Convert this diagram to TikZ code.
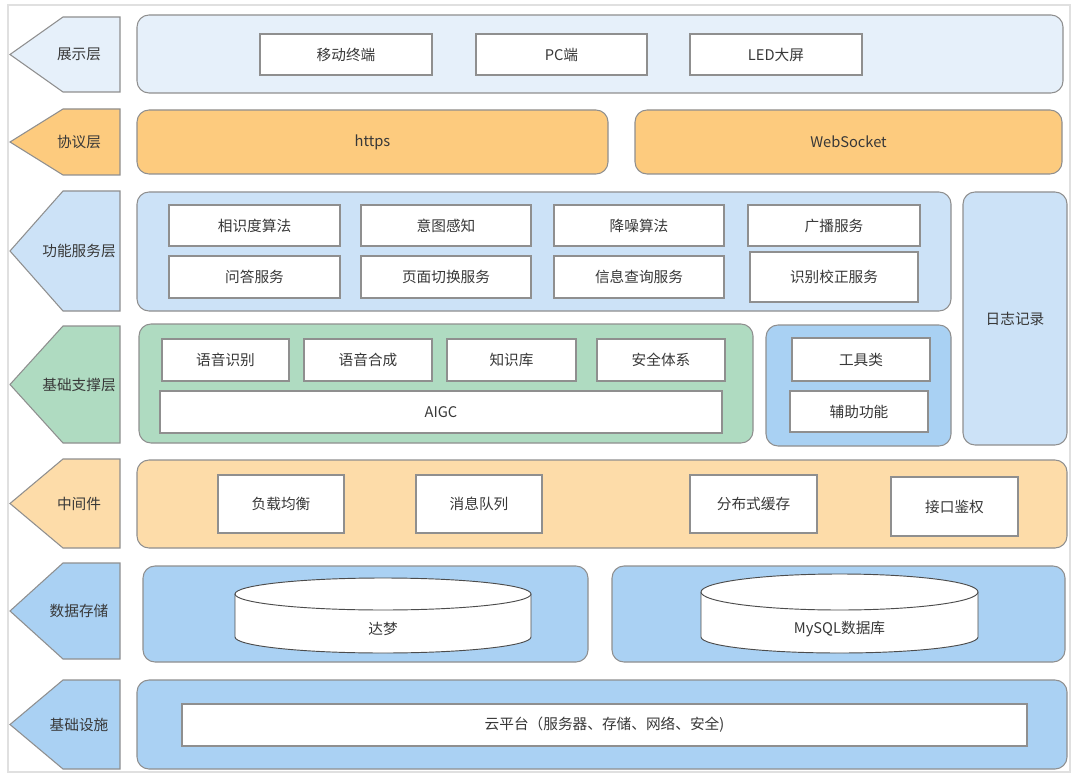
\documentclass[tikz,border=0pt]{standalone}
\usepackage{fontspec}
\setmainfont{Noto Sans CJK SC}
\definecolor{txt}{HTML}{383838}
\definecolor{edge}{HTML}{8F8F8F}
\definecolor{cOne}{HTML}{E6F0FA}
\definecolor{cTwo}{HTML}{FDCB7E}
\definecolor{cThree}{HTML}{CCE2F7}
\definecolor{cFour}{HTML}{AFDBC1}
\definecolor{cFive}{HTML}{A9D1F3}
\definecolor{cSix}{HTML}{FDDCA9}
\definecolor{cSeven}{HTML}{AAD1F3}
\newcommand\mybox[7][wbox]{\node[#1, minimum width={(#5-#3)*0.75pt}, minimum height={(#6-#4)*0.75pt}] (#2) at ({(#3+#5)/2},{(#4+#6)/2}) {#7};}
\newcommand\layertag[5]{%
  \draw[tagshape, fill=#2] (120,#3) -- (63,#3) -- (10,{(#3+#4)/2}) -- (63,#4) -- (120,#4) -- cycle;
  \node[lbl] (#1) at (79,{(#3+#4)/2}) {#5};}
\begin{document}
\begin{tikzpicture}[x=0.75pt,y=-0.75pt,
  every node/.style={text=txt, font=\fontsize{11}{13}\selectfont},
  wbox/.style={draw=edge, fill=white, line width=0.8pt, inner sep=0pt},
  panel/.style={draw=edge, line width=0.8pt, rounded corners=9pt, inner sep=0pt},
  tagshape/.style={draw=edge, line width=0.8pt},
  lbl/.style={inner sep=0pt},
  cyl/.style={draw=black!70, fill=white, line width=0.7pt}]
\useasboundingbox (0,0) rectangle (1080,780);
\fill[white] (0,0) rectangle (1080,780);
\draw[black!12, line width=0.8pt] (8,5) rectangle (1070,772);

% left tags
\layertag{t1}{cOne}{17}{92}{展示层}
\layertag{t2}{cTwo}{109}{175}{协议层}
\layertag{t3}{cThree}{191}{311}{功能服务层}
\layertag{t4}{cFour}{326}{443}{基础支撑层}
\layertag{t5}{cSix}{459}{548}{中间件}
\layertag{t6}{cSeven}{563}{659}{数据存储}
\layertag{t7}{cSeven}{680}{769}{基础设施}

% presentation layer
\mybox[panel, fill=cOne]{p1}{137}{15}{1063}{93}{}
\mybox{mobile}{260}{34}{432}{75}{移动终端}
\mybox{pc}{476}{34}{647}{75}{PC端}
\mybox{led}{690}{34}{862}{75}{LED大屏}

% protocol layer
\mybox[panel, fill=cTwo]{https}{137}{110}{608}{174}{https}
\mybox[panel, fill=cTwo]{ws}{635}{110}{1062}{174}{WebSocket}

% function service layer
\mybox[panel, fill=cThree]{p3}{137}{192}{951}{311}{}
\mybox{f1}{169}{205}{340}{246}{相识度算法}
\mybox{f2}{361}{205}{531}{246}{意图感知}
\mybox{f3}{554}{205}{724}{246}{降噪算法}
\mybox{f4}{748}{205}{920}{246}{广播服务}
\mybox{f5}{169}{256}{340}{298}{问答服务}
\mybox{f6}{361}{256}{531}{298}{页面切换服务}
\mybox{f7}{554}{256}{724}{298}{信息查询服务}
\mybox{f8}{750}{252}{918}{302}{识别校正服务}

% log
\mybox[panel, fill=cThree]{log}{963}{192}{1067}{445}{日志记录}

% base support layer
\mybox[panel, fill=cFour]{p4}{139}{324}{753}{443}{}
\mybox{b1}{162}{339}{289}{381}{语音识别}
\mybox{b2}{304}{339}{432}{381}{语音合成}
\mybox{b3}{447}{339}{576}{381}{知识库}
\mybox{b4}{597}{339}{725}{381}{安全体系}
\mybox{aigc}{160}{391}{722}{433}{AIGC}
\mybox[panel, fill=cFive]{p4b}{766}{325}{951}{446}{}
\mybox{tool}{792}{338}{930}{381}{工具类}
\mybox{aux}{790}{391}{928}{432}{辅助功能}

% middleware
\mybox[panel, fill=cSix]{p5}{137}{460}{1067}{548}{}
\mybox{m1}{218}{475}{344}{533}{负载均衡}
\mybox{m2}{416}{475}{542}{533}{消息队列}
\mybox{m3}{690}{475}{817}{533}{分布式缓存}
\mybox{m4}{891}{477}{1018}{536}{接口鉴权}

% data storage
\mybox[panel, fill=cSeven]{p6a}{143}{566}{588}{662}{}
\mybox[panel, fill=cSeven]{p6b}{612}{566}{1065}{662}{}
\draw[cyl] (235,594) -- (235,637) arc[start angle=180, end angle=0, x radius=148, y radius=16] -- (531,594);
\draw[cyl] (383,594) ellipse[x radius=148, y radius=16];
\node[lbl] (dm) at (383,629) {达梦};
\draw[cyl] (701,592) -- (701,637) arc[start angle=180, end angle=0, x radius=138.5, y radius=16] -- (978,592);
\draw[cyl] (839.5,592) ellipse[x radius=138.5, y radius=18];
\node[lbl] (mysql) at (839.5,629) {MySQL数据库};

% infrastructure
\mybox[panel, fill=cSeven]{p7}{137}{680}{1067}{769}{}
\mybox{cloud}{182}{704}{1027}{746}{云平台（服务器、存储、网络、安全)}
\end{tikzpicture}
\end{document}
